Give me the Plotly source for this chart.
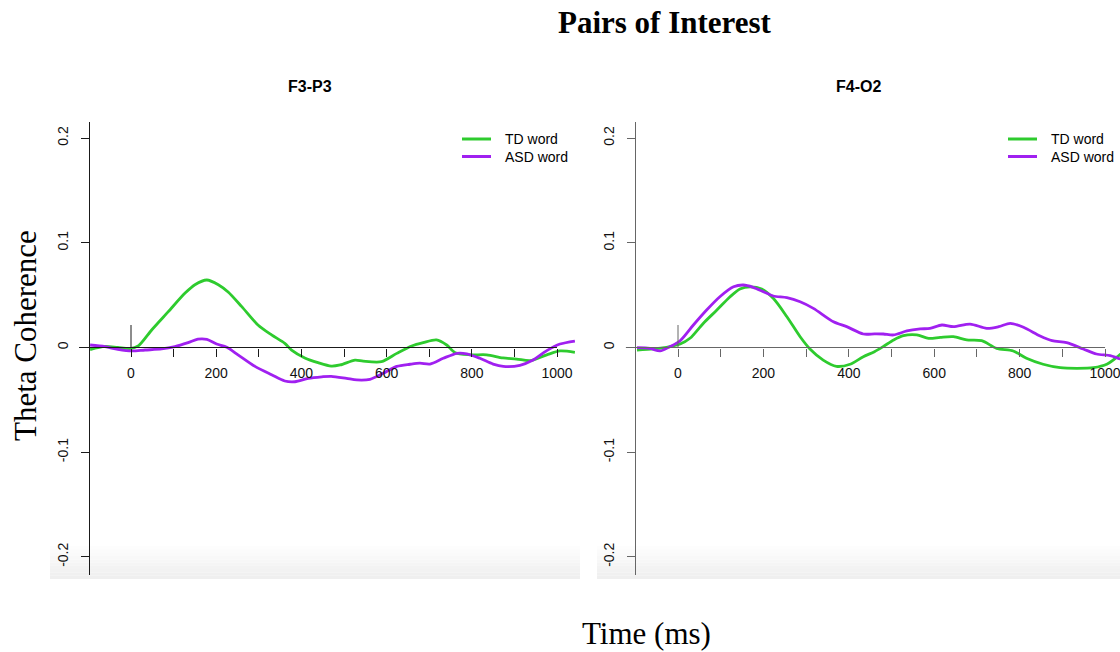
import plotly.graph_objects as go

# ---------------- data ----------------
f3p3_td_ms = [-96, -61, -31, -2, 17, 49, 87, 127, 150, 178, 205, 228, 260, 298, 330, 361, 377, 408, 439,
              470, 491, 526, 545, 588, 624, 659, 686, 717, 741, 761, 796, 835, 873, 905, 937, 976, 1007, 1042]
f3p3_td = [-0.002, 0.001, 0.000, -0.001, 0.0015, 0.017, 0.034, 0.052, 0.060, 0.0645, 0.060, 0.053, 0.039,
           0.0215, 0.012, 0.004, -0.0025, -0.010, -0.0145, -0.0178, -0.0167, -0.012, -0.013, -0.0135,
           -0.0056, 0.0014, 0.0046, 0.0072, 0.0024, -0.005, -0.007, -0.007, -0.010, -0.011, -0.0126,
           -0.007, -0.0033, -0.0046]

f3p3_asd_ms = [-96, -61, -31, 2, 33, 72, 103, 134, 157, 178, 201, 225, 252, 291, 330, 361, 385, 416, 448,
               470, 506, 530, 561, 592, 624, 655, 678, 702, 733, 765, 788, 819, 850, 874, 913, 944, 976,
               1007, 1042]
f3p3_asd = [0.0024, 0.0008, -0.0017, -0.0033, -0.0024, -0.0014, 0.0008, 0.0046, 0.008, 0.0078, 0.0033,
            0.0002, -0.0072, -0.018, -0.026, -0.032, -0.0327, -0.0295, -0.028, -0.0275, -0.0295, -0.031,
            -0.0304, -0.0247, -0.018, -0.016, -0.015, -0.0158, -0.0103, -0.0055, -0.006, -0.0103, -0.0158,
            -0.018, -0.017, -0.012, -0.003, 0.0033, 0.0062]

f4o2_td_ms = [-96, -58, -27, 5, 28, 59, 91, 122, 145, 169, 196, 223, 255, 286, 309, 340, 371, 403, 434,
              460, 481, 505, 528, 559, 587, 614, 645, 676, 711, 746, 785, 816, 855, 895, 934, 973, 1004,
              1031, 1045]
f4o2_td = [-0.0024, -0.0014, 0.0002, 0.0033, 0.0088, 0.023, 0.0358, 0.0485, 0.0559, 0.058, 0.0559, 0.047,
           0.0294, 0.0103, -0.0014, -0.012, -0.018, -0.016, -0.0088, -0.004, 0.001, 0.0072, 0.0113, 0.012,
           0.0088, 0.0097, 0.0103, 0.0072, 0.0065, -0.0008, -0.0033, -0.0103, -0.016, -0.0193, -0.0199,
           -0.0193, -0.016, -0.0081, -0.003]

f4o2_asd_ms = [-96, -66, -42, -19, 5, 36, 67, 98, 130, 153, 176, 200, 223, 255, 286, 317, 364, 395, 434,
               460, 481, 505, 536, 567, 590, 618, 645, 684, 723, 751, 778, 809, 848, 876, 910, 949, 980,
               1012, 1031, 1045]
f4o2_asd = [-0.0002, -0.0008, -0.0033, 0.0008, 0.0065, 0.0215, 0.0358, 0.0485, 0.058, 0.0597, 0.0575,
            0.0533, 0.0492, 0.0476, 0.0437, 0.0374, 0.0246, 0.0199, 0.0129, 0.013, 0.0129, 0.012, 0.0158,
            0.0177, 0.0183, 0.0215, 0.0199, 0.0224, 0.0183, 0.0199, 0.0231, 0.0193, 0.011, 0.0065, 0.0046,
            -0.0014, -0.0062, -0.0078, -0.0103, -0.012]

series_names = ["TD word", "ASD word"]
panel_titles = ["F3-P3", "F4-O2"]
y_tick_vals = [-0.2, -0.1, 0, 0.1, 0.2]
y_tick_text = ["-0.2", "-0.1", "0", "0.1", "0.2"]

# ---------------- styling / layout ----------------
W, H = 1120, 652
GREEN = "#2ECB2E"
PURPLE = "#A020F0"
SANS = "Liberation Sans, Arial, sans-serif"
SERIF = "Liberation Serif, Times New Roman, serif"

def px_x(p):
    return p / W

def px_y(p):
    return 1 - p / H

# y geometry (shared)
Y_TOP_PX, Y_BOT_PX = 122, 575
Y_RANGE = [-0.2173, 0.2154]
X_AXIS_POS = px_y(347.5)

panels = [
    dict(xd=[89, 580], xr=[-98.6, 1054], axcol="#1a1a1a", tcol=310,
         td=(f3p3_td_ms, f3p3_td), asd=(f3p3_asd_ms, f3p3_asd), legx=460),
    dict(xd=[635, 1120], xr=[-100.7, 1035], axcol="#666666", tcol=858,
         td=(f4o2_td_ms, f4o2_td), asd=(f4o2_asd_ms, f4o2_asd), legx=1006),
]

fig = go.Figure()
shapes = []
annotations = []
layout_axes = {}

for i, p in enumerate(panels):
    sfx = "" if i == 0 else str(i + 1)
    xa, ya = "x" + sfx, "y" + sfx
    for (ms, vals), name, col in [(p["td"], series_names[0], GREEN), (p["asd"], series_names[1], PURPLE)]:
        fig.add_trace(go.Scatter(x=ms, y=vals, mode="lines", name=name, showlegend=False,
                                 line=dict(color=col, width=2.8, shape="spline", smoothing=0.8),
                                 xaxis=xa, yaxis=ya))
    d0, d1 = px_x(p["xd"][0]), px_x(p["xd"][1])
    layout_axes["xaxis" + sfx] = dict(
        domain=[d0, d1], range=p["xr"], anchor="free", position=X_AXIS_POS, side="bottom",
        showline=False, showgrid=False, zeroline=False,
        tickmode="linear", tick0=0, dtick=200, ticks="outside", ticklen=8, tickwidth=1,
        tickcolor=p["axcol"], tickfont=dict(family=SANS, size=14, color="#111"), ticklabelstandoff=5,
        ticklabeloverflow="allow",
        minor=dict(tick0=0, dtick=100, ticks="outside", ticklen=8, tickwidth=1, tickcolor=p["axcol"]),
        fixedrange=True,
    )
    layout_axes["yaxis" + sfx] = dict(
        domain=[px_y(Y_BOT_PX), px_y(Y_TOP_PX)], range=Y_RANGE, anchor="free", position=d0,
        showline=True, linecolor=p["axcol"], linewidth=1, showgrid=False, zeroline=False,
        tickmode="array", tickvals=y_tick_vals, ticktext=y_tick_text, tickangle=-90,
        ticks="outside", ticklen=8, tickwidth=1, tickcolor=p["axcol"], ticklabelstandoff=7,
        tickfont=dict(family=SANS, size=14, color="#111"), fixedrange=True,
    )
    # horizontal axis line at y = 0 from about -120 ms to the 1000 ms tick
    def ms_to_paper(ms):
        return d0 + (ms - p["xr"][0]) / (p["xr"][1] - p["xr"][0]) * (d1 - d0)
    shapes.append(dict(type="line", xref="paper", yref=ya, x0=ms_to_paper(-122), x1=ms_to_paper(1000),
                       y0=0, y1=0, line=dict(color=p["axcol"], width=1), layer="above"))
    # stimulus-onset marker at 0 ms
    shapes.append(dict(type="line", xref=xa, yref=ya, x0=0, x1=0, y0=0, y1=0.0215,
                       line=dict(color=p["axcol"], width=1), layer="above"))
    # panel title
    annotations.append(dict(text="<b>%s</b>" % panel_titles[i], xref="paper", yref="paper",
                            x=px_x(p["tcol"]), y=px_y(86), xanchor="center", yanchor="middle",
                            showarrow=False, font=dict(family=SANS, size=16, color="black")))
    # legend (manual)
    for k, (name, col) in enumerate([(series_names[0], GREEN), (series_names[1], PURPLE)]):
        yy = px_y(139 + 17.5 * k)
        shapes.append(dict(type="line", xref="paper", yref="paper", x0=px_x(p["legx"] + 2),
                           x1=px_x(p["legx"] + 31), y0=yy, y1=yy, line=dict(color=col, width=3)))
        annotations.append(dict(text=name, xref="paper", yref="paper", x=px_x(p["legx"] + 43), y=yy,
                                xanchor="left", yanchor="middle", showarrow=False,
                                font=dict(family=SANS, size=14, color="black")))

# soft grey strip at the bottom of each panel
for x0, x1 in [(50, 580), (597, 1120)]:
    n = 10
    for k in range(n):
        g = int(255 - (k + 1) * 1.6)
        shapes.append(dict(type="rect", xref="paper", yref="paper", x0=px_x(x0), x1=px_x(x1),
                           y0=px_y(546 + 3.3 * (k + 1)), y1=px_y(546 + 3.3 * k),
                           fillcolor="rgb(%d,%d,%d)" % (g, g, g), line=dict(width=0), layer="below"))

annotations += [
    dict(text="<b>Pairs of Interest</b>", xref="paper", yref="paper", x=px_x(665), y=px_y(22),
         xanchor="center", yanchor="middle", showarrow=False,
         font=dict(family=SERIF, size=31, color="black")),
    dict(text="Theta Coherence", xref="paper", yref="paper", x=px_x(25), y=px_y(336), textangle=-90,
         xanchor="center", yanchor="middle", showarrow=False,
         font=dict(family=SERIF, size=31, color="black")),
    dict(text="Time (ms)", xref="paper", yref="paper", x=px_x(646), y=px_y(633),
         xanchor="center", yanchor="middle", showarrow=False,
         font=dict(family=SERIF, size=31, color="black")),
]

fig.update_layout(
    width=W, height=H, margin=dict(l=0, r=0, t=0, b=0),
    paper_bgcolor="white", plot_bgcolor="rgba(0,0,0,0)",
    showlegend=False, shapes=shapes, annotations=annotations, **layout_axes,
)

fig.write_html("out.html", config={"displayModeBar": False},
               post_script="document.body.style.margin='0';document.body.style.overflow='hidden';")
